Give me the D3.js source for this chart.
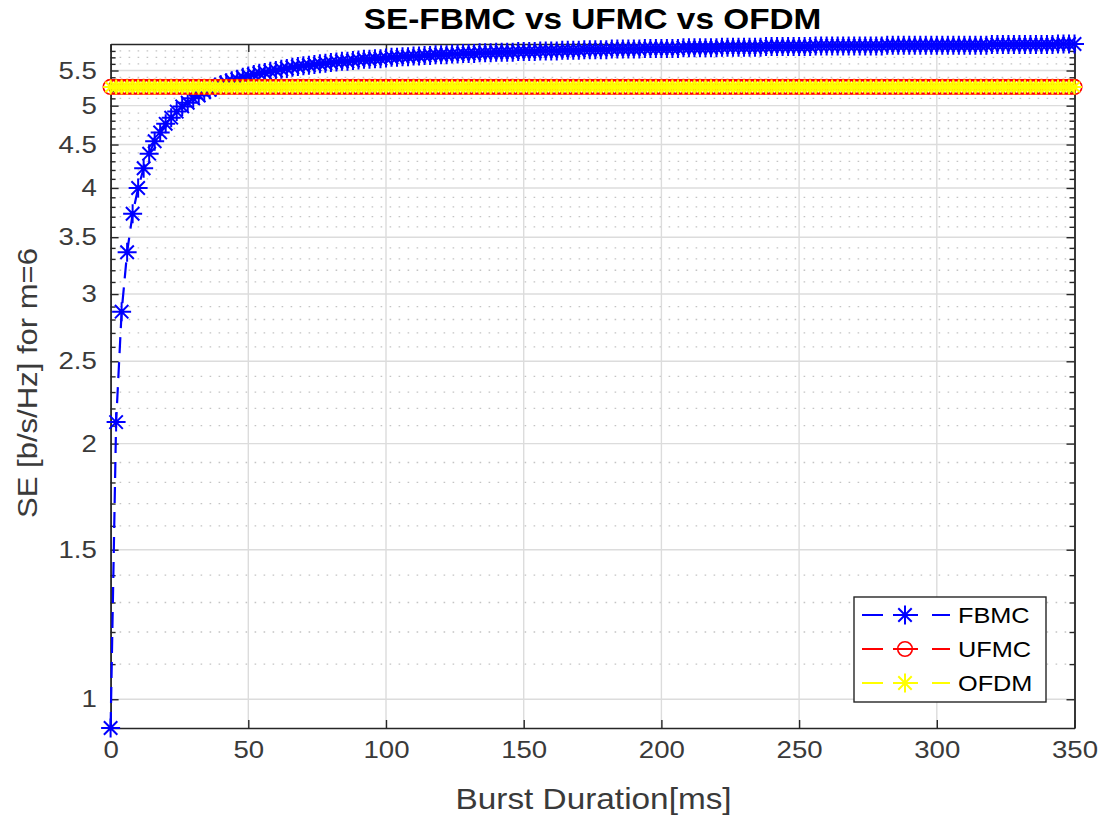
<!DOCTYPE html>
<html>
<head>
<meta charset="utf-8">
<script src="https://cdn.jsdelivr.net/npm/d3@7"></script>
<style>
  html, body { margin: 0; padding: 0; background: #ffffff; }
  svg { display: block; font-family: "Liberation Sans", Arial, Helvetica, sans-serif; }
</style>
</head>
<body>
<svg id="chart" width="1102" height="815"></svg>
<script>
// ===== DATA =====
const burstMs = [
  0, 2, 4, 6, 8, 10, 12, 14, 16, 18, 20, 22, 24, 26, 28, 30, 32, 34, 36, 38, 40, 42, 44, 46, 48,
  50, 52, 54, 56, 58, 60, 62, 64, 66, 68, 70, 72, 74, 76, 78, 80, 82, 84, 86, 88, 90, 92, 94, 96, 98,
  100, 102, 104, 106, 108, 110, 112, 114, 116, 118, 120, 122, 124, 126, 128, 130, 132, 134, 136, 138, 140, 142, 144, 146, 148,
  150, 152, 154, 156, 158, 160, 162, 164, 166, 168, 170, 172, 174, 176, 178, 180, 182, 184, 186, 188, 190, 192, 194, 196, 198,
  200, 202, 204, 206, 208, 210, 212, 214, 216, 218, 220, 222, 224, 226, 228, 230, 232, 234, 236, 238, 240, 242, 244, 246, 248,
  250, 252, 254, 256, 258, 260, 262, 264, 266, 268, 270, 272, 274, 276, 278, 280, 282, 284, 286, 288, 290, 292, 294, 296, 298,
  300, 302, 304, 306, 308, 310, 312, 314, 316, 318, 320, 322, 324, 326, 328, 330, 332, 334, 336, 338, 340, 342, 344, 346, 348, 350
];

const fbmcSE = [
  0.925, 2.12, 2.86, 3.36, 3.73, 4.00, 4.22, 4.39, 4.54, 4.65, 4.76, 4.84, 4.92, 4.99, 5.04, 5.10, 5.14, 5.19, 5.22, 5.26, 5.29, 5.32, 5.35, 5.37, 5.40,
  5.42, 5.44, 5.46, 5.47, 5.49, 5.50, 5.52, 5.53, 5.55, 5.56, 5.57, 5.58, 5.59, 5.60, 5.61, 5.62, 5.63, 5.64, 5.64, 5.65, 5.66, 5.67, 5.67, 5.68, 5.68,
  5.69, 5.70, 5.70, 5.71, 5.71, 5.72, 5.72, 5.73, 5.73, 5.74, 5.74, 5.74, 5.75, 5.75, 5.76, 5.76, 5.76, 5.77, 5.77, 5.77, 5.78, 5.78, 5.78, 5.78, 5.79,
  5.79, 5.79, 5.79, 5.80, 5.80, 5.80, 5.80, 5.81, 5.81, 5.81, 5.81, 5.82, 5.82, 5.82, 5.82, 5.82, 5.83, 5.83, 5.83, 5.83, 5.83, 5.83, 5.84, 5.84, 5.84,
  5.84, 5.84, 5.84, 5.84, 5.85, 5.85, 5.85, 5.85, 5.85, 5.85, 5.85, 5.86, 5.86, 5.86, 5.86, 5.86, 5.86, 5.86, 5.86, 5.87, 5.87, 5.87, 5.87, 5.87, 5.87,
  5.87, 5.87, 5.87, 5.88, 5.88, 5.88, 5.88, 5.88, 5.88, 5.88, 5.88, 5.88, 5.88, 5.88, 5.88, 5.88, 5.89, 5.89, 5.89, 5.89, 5.89, 5.89, 5.89, 5.89, 5.89,
  5.89, 5.89, 5.89, 5.89, 5.89, 5.89, 5.89, 5.89, 5.89, 5.89, 5.90, 5.90, 5.90, 5.90, 5.90, 5.90, 5.90, 5.90, 5.90, 5.90, 5.90, 5.90, 5.91, 5.91, 5.91, 5.91
];

// UFMC and OFDM sit on the same flat level
const ufmcLevel = 5.26;
const ofdmLevel = 5.26;

const xTicks = [0, 50, 100, 150, 200, 250, 300, 350];
const yTicks = [1, 1.5, 2, 2.5, 3, 3.5, 4, 4.5, 5, 5.5];
const yMinorTicks = [1.1, 1.2, 1.3, 1.4, 1.6, 1.7, 1.8, 1.9, 2.1, 2.2, 2.3, 2.4, 2.6, 2.7, 2.8, 2.9,
  3.1, 3.2, 3.3, 3.4, 3.6, 3.7, 3.8, 3.9, 4.1, 4.2, 4.3, 4.4, 4.6, 4.7, 4.8, 4.9,
  5.1, 5.2, 5.3, 5.4, 5.6, 5.7, 5.8];

const seriesNames = ["FBMC", "UFMC", "OFDM"];
const seriesColors = ["#0000ff", "#ff0000", "#ffff00"];

const titleText = "SE-FBMC vs UFMC vs OFDM";
const xLabelText = "Burst Duration[ms]";
const yLabelText = "SE [b/s/Hz] for m=6";

// ===== LAYOUT =====
const plotL = 110.6, plotR = 1074.5, plotT = 44, plotB = 728;
const textStretch = 1.15;   // MATLAB's Helvetica renders wider than Liberation Sans
const axisColor = "#262626";

const fbmc = burstMs.map((v, i) => ({ x: v, y: fbmcSE[i] }));
const ufmc = burstMs.map(v => ({ x: v, y: ufmcLevel }));
const ofdm = burstMs.map(v => ({ x: v, y: ofdmLevel }));

const allY = fbmcSE.concat([ufmcLevel, ofdmLevel]);

const xScale = d3.scaleLinear().domain([0, 350]).range([plotL, plotR]);
const yScale = d3.scaleLog().domain(d3.extent(allY)).range([plotB, plotT]);

const svg = d3.select("#chart");

svg.append("rect").attr("width", 1102).attr("height", 815).attr("fill", "#ffffff");

// ===== GRID =====
const grid = svg.append("g");

grid.selectAll(".minor-y")
  .data(yMinorTicks)
  .enter().append("line")
  .attr("x1", plotL).attr("x2", plotR)
  .attr("y1", d => yScale(d)).attr("y2", d => yScale(d))
  .attr("stroke", "#c4c4c4")
  .attr("stroke-width", 1.3)
  .attr("stroke-dasharray", "1.6,7.4");

grid.selectAll(".major-y")
  .data(yTicks)
  .enter().append("line")
  .attr("x1", plotL).attr("x2", plotR)
  .attr("y1", d => yScale(d)).attr("y2", d => yScale(d))
  .attr("stroke", "#dcdcdc")
  .attr("stroke-width", 1.4);

grid.selectAll(".major-x")
  .data(xTicks.slice(1, -1))
  .enter().append("line")
  .attr("x1", d => xScale(d)).attr("x2", d => xScale(d))
  .attr("y1", plotT).attr("y2", plotB)
  .attr("stroke", "#dcdcdc")
  .attr("stroke-width", 1.4);

// ===== AXES (ticks point inward, box on) =====
function styleAxis(g) {
  g.select(".domain").attr("stroke", axisColor).attr("stroke-width", 1.4);
  g.selectAll(".tick line").attr("stroke", axisColor).attr("stroke-width", 1.4);
  g.selectAll(".tick text")
    .attr("fill", "#3a3a3a")
    .attr("font-size", 24)
    .attr("transform", `scale(${textStretch},1)`);
}

svg.append("g")
  .attr("transform", `translate(0,${plotB})`)
  .call(d3.axisBottom(xScale).tickValues(xTicks).tickSize(-8).tickSizeOuter(0).tickPadding(13).tickFormat(d => d))
  .call(styleAxis)
  .call(g => g.selectAll(".tick text").attr("dy", "0.71em"));

svg.append("g")
  .attr("transform", `translate(0,${plotT})`)
  .call(d3.axisTop(xScale).tickValues(xTicks).tickSize(-8).tickSizeOuter(0).tickFormat(""))
  .call(styleAxis);

svg.append("g")
  .attr("transform", `translate(${plotL},0)`)
  .call(d3.axisLeft(yScale).tickValues(yTicks).tickSize(-8).tickSizeOuter(0).tickPadding(12).tickFormat(d => d))
  .call(styleAxis);

svg.append("g")
  .attr("transform", `translate(${plotR},0)`)
  .call(d3.axisRight(yScale).tickValues(yTicks).tickSize(-8).tickSizeOuter(0).tickFormat(""))
  .call(styleAxis);

// minor ticks on log axis
svg.append("g")
  .attr("transform", `translate(${plotL},0)`)
  .call(d3.axisLeft(yScale).tickValues(yMinorTicks).tickSize(-5).tickSizeOuter(0).tickFormat(""))
  .call(styleAxis);

svg.append("g")
  .attr("transform", `translate(${plotR},0)`)
  .call(d3.axisRight(yScale).tickValues(yMinorTicks).tickSize(-5).tickSizeOuter(0).tickFormat(""))
  .call(styleAxis);

// ===== MARKERS =====
function starPath(r) {
  const a = r * 0.7071;
  return `M${-r},0L${r},0M0,${-r}L0,${r}M${-a},${-a}L${a},${a}M${-a},${a}L${a},${-a}`;
}

const line = d3.line().x(d => xScale(d.x)).y(d => yScale(d.y));

function drawSeries(data, color, marker, size) {
  const g = svg.append("g");
  g.append("path")
    .datum(data)
    .attr("d", line)
    .attr("fill", "none")
    .attr("stroke", color)
    .attr("stroke-width", 2.2)
    .attr("stroke-dasharray", "16,9");
  if (marker === "star") {
    g.selectAll(".m")
      .data(data)
      .enter().append("path")
      .attr("transform", d => `translate(${xScale(d.x)},${yScale(d.y)})`)
      .attr("d", starPath(size))
      .attr("fill", "none")
      .attr("stroke", color)
      .attr("stroke-width", 2);
  } else {
    g.selectAll(".m")
      .data(data)
      .enter().append("circle")
      .attr("cx", d => xScale(d.x))
      .attr("cy", d => yScale(d.y))
      .attr("r", size)
      .attr("fill", "none")
      .attr("stroke", color)
      .attr("stroke-width", 1.6);
  }
}

drawSeries(fbmc, seriesColors[0], "star", 9.5);
drawSeries(ufmc, seriesColors[1], "circle", 7.3);
drawSeries(ofdm, seriesColors[2], "star", 7.5);

// ===== TITLE & LABELS =====
svg.append("text")
  .attr("transform", `translate(${(plotL + plotR) / 2},29) scale(${textStretch},1)`)
  .attr("text-anchor", "middle")
  .attr("font-size", 29)
  .attr("font-weight", "bold")
  .attr("fill", "#000000")
  .text(titleText);

svg.append("text")
  .attr("transform", `translate(${(plotL + plotR) / 2 + 1},809) scale(${textStretch},1)`)
  .attr("text-anchor", "middle")
  .attr("font-size", 29)
  .attr("fill", "#3a3a3a")
  .text(xLabelText);

svg.append("text")
  .attr("transform", `translate(37,${(plotT + plotB) / 2 - 3}) rotate(-90) scale(${textStretch},1)`)
  .attr("text-anchor", "middle")
  .attr("font-size", 27)
  .attr("fill", "#3a3a3a")
  .text(yLabelText);

// ===== LEGEND =====
const legend = svg.append("g").attr("transform", "translate(854,597)");
legend.append("rect")
  .attr("width", 192).attr("height", 105)
  .attr("fill", "#ffffff")
  .attr("stroke", axisColor)
  .attr("stroke-width", 1.4);

const markers = ["star", "circle", "star"];
seriesNames.forEach((name, i) => {
  const row = legend.append("g").attr("transform", `translate(0,${18 + i * 34})`);
  row.append("line")
    .attr("x1", 8).attr("x2", 96)
    .attr("stroke", seriesColors[i])
    .attr("stroke-width", 2.2)
    .attr("stroke-dasharray", "21,10,25,14,20");
  if (markers[i] === "star") {
    row.append("path")
      .attr("transform", "translate(51,0)")
      .attr("d", starPath(9.5))
      .attr("fill", "none")
      .attr("stroke", seriesColors[i])
      .attr("stroke-width", 2);
  } else {
    row.append("circle")
      .attr("cx", 51).attr("cy", 0).attr("r", 7.3)
      .attr("fill", "none")
      .attr("stroke", seriesColors[i])
      .attr("stroke-width", 1.6);
  }
  row.append("text")
    .attr("transform", `translate(104,8) scale(${textStretch},1)`)
    .attr("font-size", 22)
    .attr("fill", "#000000")
    .text(name);
});
</script>
</body>
</html>
